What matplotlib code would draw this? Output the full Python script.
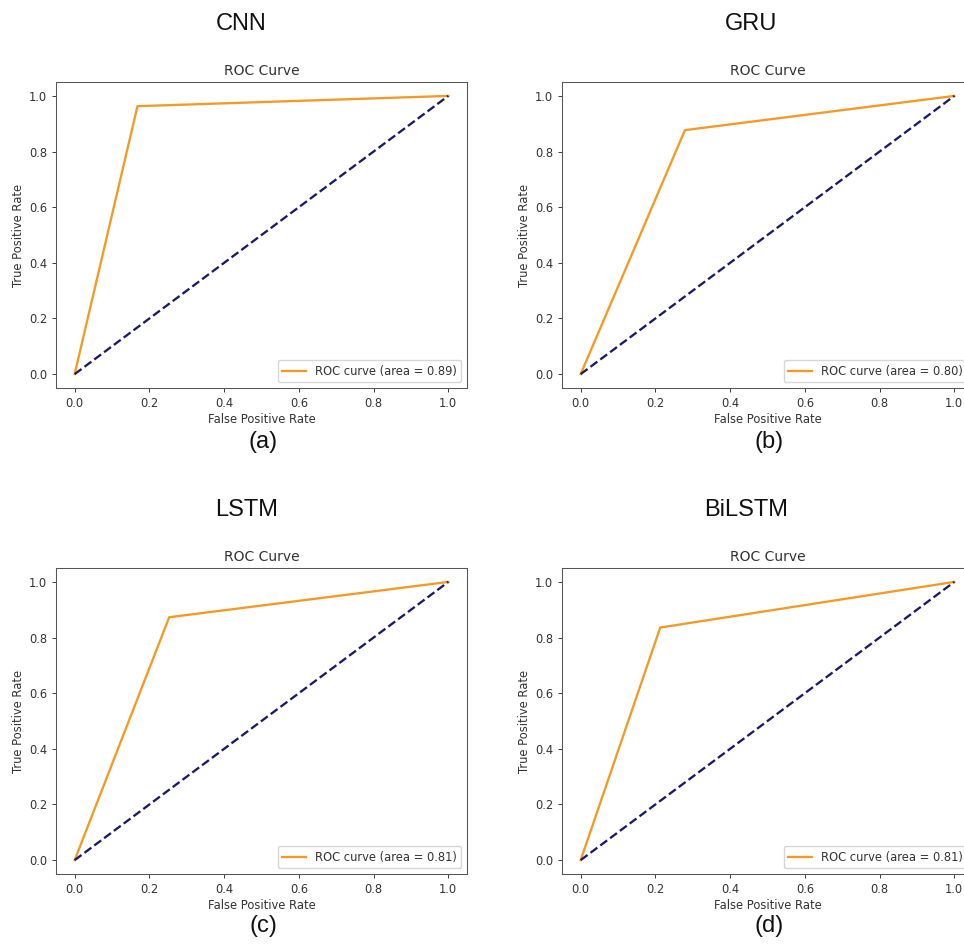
import matplotlib
matplotlib.use("Agg")
import matplotlib.pyplot as plt

models = ["CNN", "GRU", "LSTM", "BiLSTM"]
panel_labels = ["(a)", "(b)", "(c)", "(d)"]
fpr_values = [[0.0, 0.168, 1.0], [0.0, 0.279, 1.0], [0.0, 0.253, 1.0], [0.0, 0.213, 1.0]]
tpr_values = [[0.0, 0.963, 1.0], [0.0, 0.877, 1.0], [0.0, 0.873, 1.0], [0.0, 0.836, 1.0]]
auc_values = [0.89, 0.80, 0.81, 0.81]
ticks = [0.0, 0.2, 0.4, 0.6, 0.8, 1.0]

s = 0.83
fig = plt.figure(figsize=(9.64, 9.47), dpi=100)
W, H = 964, 947
ax_w, ax_h = 411, 306
lefts = [56, 562, 56, 562]
tops = [82, 82, 568, 568]
title_pos = [(241, 24), (751, 24), (247, 510), (746, 510)]
label_y = [442, 442, 926, 926]
txt = "#333333"

for i in range(4):
    ax = fig.add_axes([lefts[i] / W, 1 - (tops[i] + ax_h) / H, ax_w / W, ax_h / H])
    ax.plot(fpr_values[i], tpr_values[i], color="#f39a24", lw=2 * s,
            label="ROC curve (area = %0.2f)" % auc_values[i])
    ax.plot([0, 1], [0, 1], color="#1a1a66", lw=2 * s, linestyle="--")
    ax.set_xticks(ticks)
    ax.set_yticks(ticks)
    ax.tick_params(labelsize=10 * s, colors=txt, width=0.8 * s, length=3.5 * s)
    for sp in ax.spines.values():
        sp.set_linewidth(0.9 * s)
        sp.set_color("#555555")
    ax.set_xlabel("False Positive Rate", fontsize=10 * s, color=txt, labelpad=2)
    ax.set_ylabel("True Positive Rate", fontsize=10 * s, color=txt, labelpad=3)
    ax.set_title("ROC Curve", fontsize=12 * s, color=txt, pad=5)
    ax.legend(loc="lower right", fontsize=10 * s, handlelength=2.0, labelcolor=txt)
    fig.text(title_pos[i][0] / W, 1 - title_pos[i][1] / H, models[i],
             fontsize=17, family="Liberation Sans", ha="center", va="center", color="#111111")
    fig.text((lefts[i] + 207) / W, 1 - label_y[i] / H, panel_labels[i],
             fontsize=17, family="Liberation Sans", ha="center", va="center", color="#111111")

fig.savefig("out.png", dpi=100)
